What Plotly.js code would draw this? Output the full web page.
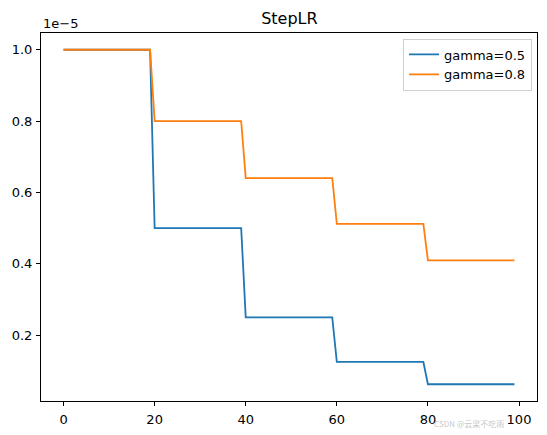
<!DOCTYPE html>
<html>
<head>
<meta charset="utf-8">
<script src="https://cdn.plot.ly/plotly-3.0.1.min.js"></script>
<style>html,body{margin:0;padding:0;background:#fff;}#chart{width:547px;height:435px;}</style>
</head>
<body>
<div id="chart"></div>
<script>
// epochs at which the step schedule changes (start, end of each plateau)
const epochs = [0, 19, 20, 39, 40, 59, 60, 79, 80, 99];
// learning rate in units of 1e-5
const lrGamma05 = [1.0, 1.0, 0.5, 0.5, 0.25, 0.25, 0.125, 0.125, 0.0625, 0.0625];
const lrGamma08 = [1.0, 1.0, 0.8, 0.8, 0.64, 0.64, 0.512, 0.512, 0.4096, 0.4096];
const seriesNames = ["gamma=0.5", "gamma=0.8"];
const xTicks = [0, 20, 40, 60, 80, 100];
const yTicks = [0.2, 0.4, 0.6, 0.8, 1.0];
const yTickLabels = ["0.2", "0.4", "0.6", "0.8", "1.0"];

const font = "DejaVu Sans, sans-serif";
const traces = [
  {x: epochs, y: lrGamma05, name: seriesNames[0], mode: "lines", line: {color: "#1f77b4", width: 1.8}},
  {x: epochs, y: lrGamma08, name: seriesNames[1], mode: "lines", line: {color: "#ff7f0e", width: 1.8}}
];
const axisCommon = {
  showline: true, mirror: true, linecolor: "#000", linewidth: 1,
  ticks: "outside", ticklen: 4, tickwidth: 1, tickcolor: "#000",
  showgrid: false, zeroline: false,
  tickfont: {family: font, size: 13, color: "#000"}
};
const layout = {
  width: 547, height: 435,
  margin: {l: 41, r: 10, t: 33, b: 34, pad: 0},
  paper_bgcolor: "#fff", plot_bgcolor: "#fff",
  title: {text: "StepLR", font: {family: font, size: 16, color: "#000"}, x: 0.529, xanchor: "center", y: 0.958, yanchor: "middle"},
  xaxis: Object.assign({}, axisCommon, {range: [-4.95, 103.95], tickvals: xTicks, ticktext: xTicks.map(String), ticklabelstandoff: 2}),
  yaxis: Object.assign({}, axisCommon, {range: [0.015625, 1.046875], tickvals: yTicks, ticktext: yTickLabels, ticklabelstandoff: 1}),
  showlegend: true,
  legend: {
    x: 0.99, xanchor: "right", y: 0.985, yanchor: "top",
    bgcolor: "rgba(255,255,255,0.8)", bordercolor: "#d0d0d0", borderwidth: 1,
    font: {family: font, size: 13, color: "#000"},
    itemwidth: 30, tracegroupgap: 0
  },
  annotations: [
    {text: "1e\u22125", xref: "paper", yref: "paper", x: 0, y: 1, xanchor: "left", yanchor: "bottom", yshift: 0, showarrow: false, font: {family: font, size: 13, color: "#000"}},
    {text: "CSDN @云梁不吃雨", xref: "paper", yref: "paper", x: 0.935, y: -0.06, xanchor: "right", yanchor: "middle", showarrow: false, borderpad: 0, font: {family: "Noto Sans CJK SC, sans-serif", size: 8, color: "rgba(160,160,160,0.6)"}}
  ]
};
Plotly.newPlot("chart", traces, layout, {displayModeBar: false, staticPlot: true});
</script>
</body>
</html>
